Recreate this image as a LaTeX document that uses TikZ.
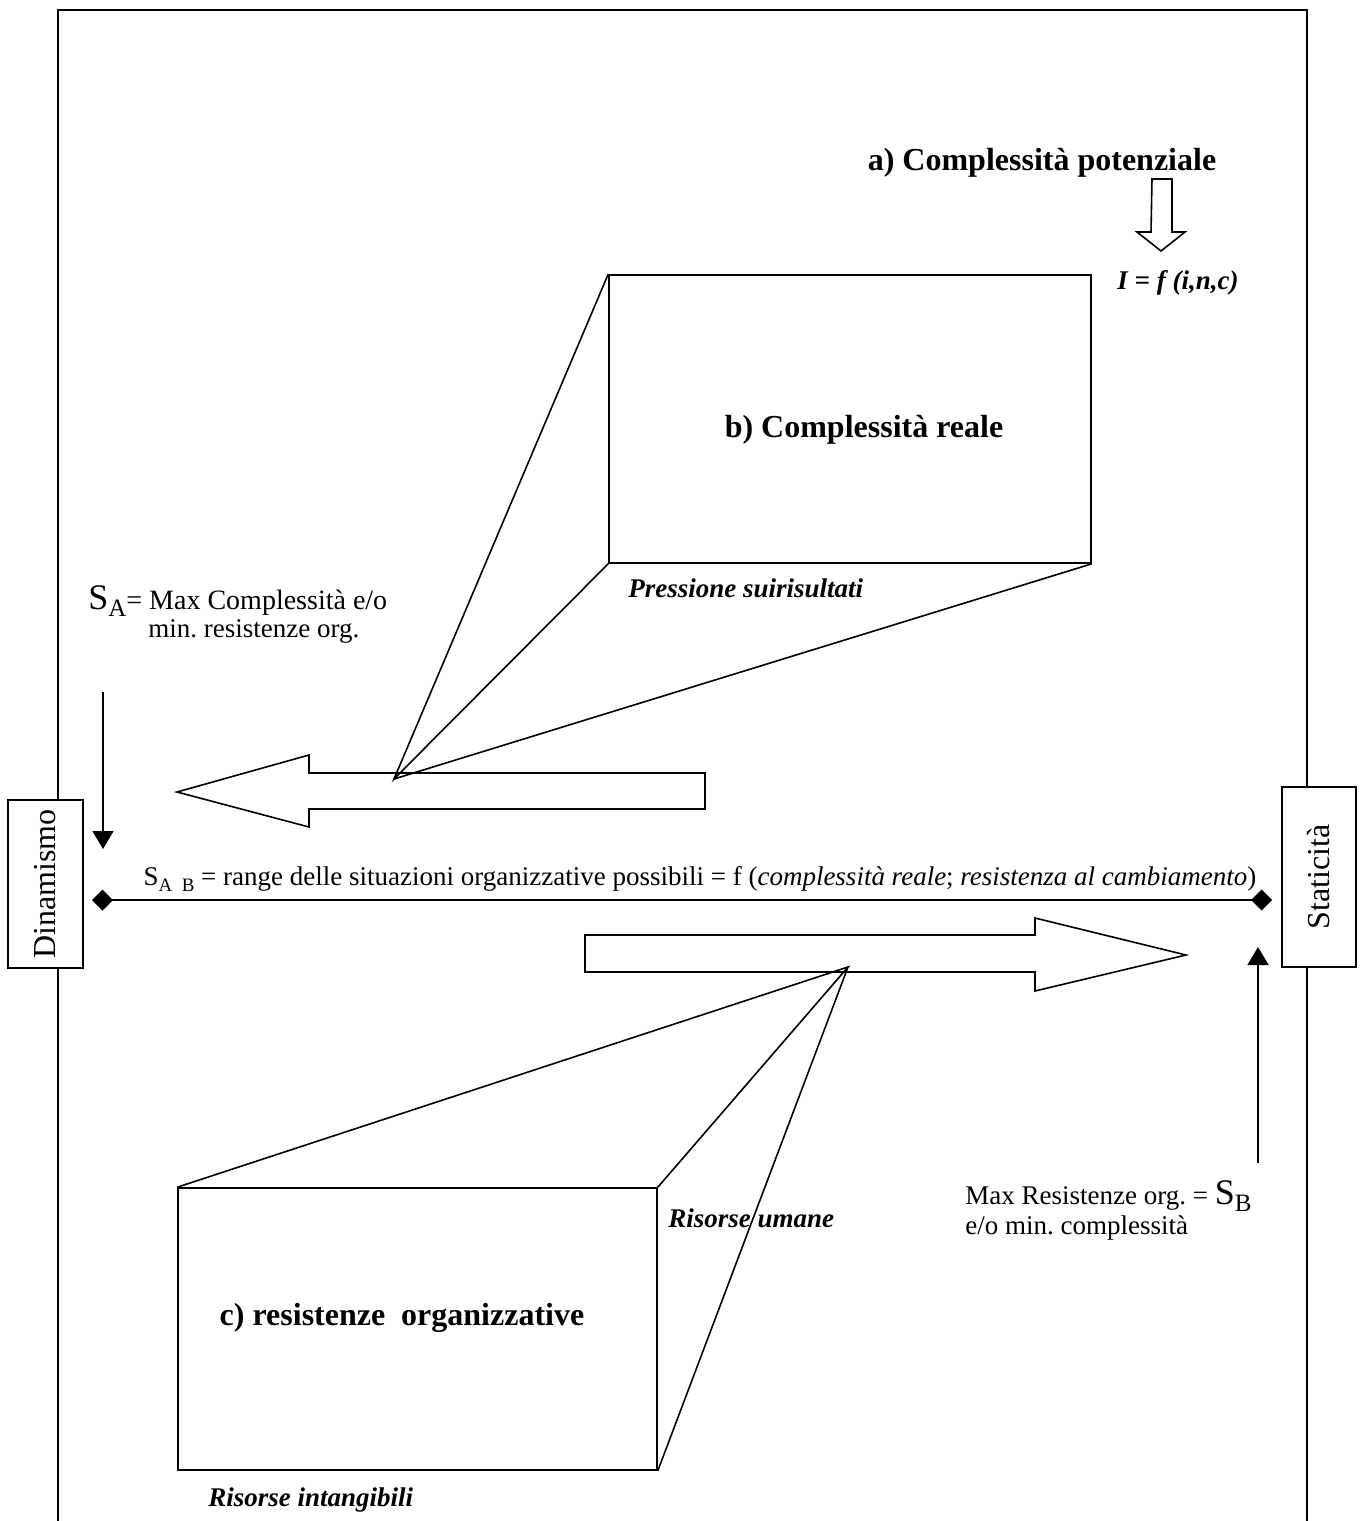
\documentclass[tikz,border=0pt]{standalone}
\usepackage{fontspec}
\setmainfont{Liberation Serif}
\usetikzlibrary{arrows.meta}
\frenchspacing
\newcommand\lowsub[2][9]{\raisebox{-0.45ex}{\fontsize{#1}{#1}\selectfont #2}}

\begin{document}
\begin{tikzpicture}[x=0.5pt,y=-0.5pt,
    lw/.style={line width=0.8pt},
    box/.style={draw, lw, fill=white, inner sep=0pt},
    side/.style={box, rotate=90, font=\fontsize{16}{18}\selectfont},
    title/.style={font=\fontsize{16}{18}\selectfont\bfseries},
    remark/.style={font=\fontsize{13.5}{16}\selectfont\bfseries\itshape, anchor=west, inner sep=0pt},
    plain/.style={font=\fontsize{13.5}{15}\selectfont, anchor=west, inner sep=0pt},
    blockarrow/.style={draw, lw, fill=white, line join=miter},
    pointer/.style={lw, -{Triangle[length=9pt,width=10.5pt]}},
    rangeline/.style={lw, {Diamond[length=10.5pt,width=10.5pt]}-{Diamond[length=10.5pt,width=10.5pt]}}]
			%%%%% START %%%%%
			\useasboundingbox (0,0) rectangle (1364,1521);
			
			% frame
			\draw[lw] (58,1521) |- (1307,10) -- (1307,1521);
			
			% a) potential complexity
			\node[title] (potential) at (1042,163) {a) Complessità potenziale};
			\draw[blockarrow] (1152,179) -- (1172,179) -- (1172,232) -- (1185,232) -- (1161,251)
			    -- (1137,232) -- (1151,232) -- cycle;
			\node[font=\fontsize{13.5}{16}\selectfont\bfseries\itshape] (formula) at (1178,283) {I = f (i,n,c)};
			
			% b) real complexity
			\node[box, minimum width=241pt, minimum height=144pt] (real) at (850,419) {};
			\node[title] (realtxt) at (864,430) {b) Complessità reale};
			\node[remark] (pressure) at (628,588) {Pressione suirisultati};
			
			\draw[blockarrow] (705,773) -- (309,773) -- (309,755) -- (177,792) -- (309,827)
			    -- (309,809) -- (705,809) -- cycle;
			\coordinate (topapex) at (394,779);
			\draw[lw] (real.north west) -- (topapex) -- (real.south west);
			\draw[lw] (real.south east) -- (topapex);
			
			% the two poles
			\node[side, minimum width=84pt, minimum height=37.5pt] (dyn) at (45.5,884) {Dinamismo};
			\node[side, minimum width=90pt, minimum height=37pt] (stat) at (1319,877) {Staticità};
			
			\node[plain] (sa1) at (88,601) {\fontsize{18}{18}\selectfont S\lowsub[12.5]{A}\fontsize{14}{15}\selectfont= Max Complessità e/o};
			\node[plain] (sa2) at (148,631) {min. resistenze org.};
			\coordinate (satop) at (103,692);
			\coordinate (satip) at (103,849);
			\draw[pointer] (satop) -- (satip);
			
			\coordinate (rangeA) at (92,900);
			\coordinate (rangeB) at (1272,900);
			\draw[rangeline] (rangeA) -- (rangeB);
			\node[font=\fontsize{13.5}{15}\selectfont, inner sep=0pt] (rangetxt) at (700,879)
			    {S\lowsub[9.5]{A\enspace B} = range delle situazioni organizzative possibili = f (\textit{complessità reale}; \textit{resistenza al cambiamento})};
			
			\coordinate (sbbot) at (1258,1163);
			\coordinate (sbtip) at (1258,947);
			\draw[pointer] (sbbot) -- (sbtip);
			\node[plain] (sb1) at (965,1196) {Max Resistenze org. = \fontsize{18}{18}\selectfont S\lowsub[12.5]{B}};
			\node[plain] (sb2) at (965,1228) {e/o min. complessità};
			
			% c) organisational resistance
			\draw[blockarrow] (585,935) -- (1035,935) -- (1035,918) -- (1186,955) -- (1035,991)
			    -- (1035,972) -- (585,972) -- cycle;
			\coordinate (lowapex) at (848,967);
			\node[box, minimum width=239.5pt, minimum height=141pt] (resist) at (417.5,1329) {};
			\node[title] (resisttxt) at (402,1318) {c) resistenze\ \ organizzative};
			\draw[lw] (resist.north west) -- (lowapex) -- (resist.north east);
			\draw[lw] (resist.south east) -- (lowapex);
			\node[remark] (human) at (668,1218) {Risorse umane};
			\node[remark] (intang) at (208,1500) {Risorse intangibili};
			%%%%% END %%%%%
\end{tikzpicture}
\end{document}
